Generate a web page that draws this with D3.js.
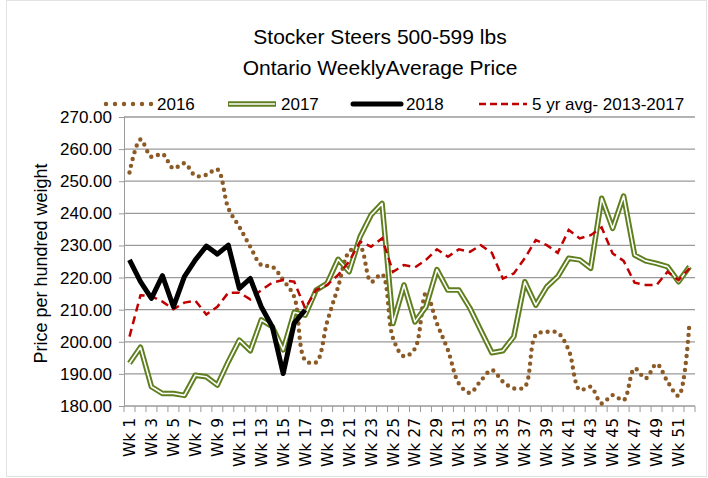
<!DOCTYPE html>
<html>
<head>
<meta charset="utf-8">
<script src="https://cdn.jsdelivr.net/npm/d3@7"></script>
<style>
  body { margin: 0; background: #fff; }
  svg { font-family: "Liberation Sans", Arial, sans-serif; }
</style>
</head>
<body>
<div id="chart"></div>
<script>
// weekly prices, $ per cwt
const weeks = d3.range(1, 53).map(w => "Wk " + w);
const y2016 = [252.7, 263.0, 257.6, 258.5, 254.0, 255.6, 251.7, 252.0, 253.7, 241.6, 235.8, 229.6, 223.9,
  223.4, 219.2, 214.0, 194.3, 193.6, 206.2, 217.1, 228.0, 229.6, 218.7, 221.0, 201.1, 195.5, 197.9,
  215.1, 205.7, 197.4, 187.0, 184.1, 187.9, 191.2, 187.6, 185.5, 186.0, 202.1, 203.1, 202.8, 197.4,
  185.0, 186.0, 180.8, 183.4, 181.8, 191.7, 188.6, 193.1, 187.6, 183.2, 206.2];
const y2017 = [193.3, 198.3, 186.0, 183.9, 183.9, 183.3, 189.6, 189.1, 186.5, 193.8, 200.5, 197.2, 206.8,
  204.7, 197.5, 209.2, 208.3, 216.1, 218.2, 225.7, 221.8, 232.7, 239.5, 243.1, 205.7, 217.7, 206.2,
  210.9, 222.5, 216.1, 216.1, 210.5, 203.5, 196.6, 197.2, 201.6, 218.7, 211.4, 217.1, 220.3, 226.0,
  225.5, 222.9, 244.7, 235.3, 245.4, 227.0, 225.2, 224.4, 223.4, 218.7, 223.4];
const y2018 = [225.5, 218.7, 213.5, 220.6, 210.9, 220.3, 225.5, 229.8, 227.3, 230.1, 216.6, 219.7, 210.9,
  204.7, 190.1, 205.8, 209.9];
const avg5 = [201.6, 214.5, 214.2, 212.5, 210.1, 212.2, 212.8, 208.5, 210.9, 215.3, 215.3, 213.2, 216.1,
  218.4, 219.2, 218.7, 210.4, 216.1, 217.7, 220.8, 225.0, 231.2, 229.6, 232.2, 221.8, 223.9, 223.2,
  225.5, 228.8, 226.5, 228.8, 228.0, 230.1, 227.7, 219.7, 221.3, 226.0, 231.7, 230.1, 227.7, 234.8,
  232.2, 233.2, 235.6, 227.5, 225.2, 218.4, 217.7, 217.7, 221.8, 219.2, 222.9];
const yTicks = [180, 190, 200, 210, 220, 230, 240, 250, 260, 270];
const seriesNames = ["2016", "2017", "2018", "5 yr avg- 2013-2017"];

const width = 708, height = 478;
const plot = { left: 124, right: 695, top: 117, bottom: 406 };

const svg = d3.select("#chart").append("svg")
  .attr("width", width)
  .attr("height", height);

// light frame around the chart
svg.append("rect")
  .attr("x", 6.5).attr("y", 0.5)
  .attr("width", width - 8).attr("height", height - 2)
  .attr("fill", "none").attr("stroke", "#e3e3e3");

const x = d3.scaleBand().domain(weeks).range([plot.left, plot.right]).padding(0);
const y = d3.scaleLinear().domain([180, 270]).range([plot.bottom, plot.top]);

// gridlines
svg.append("g")
  .selectAll("line")
  .data(yTicks.slice(1))
  .enter().append("line")
  .attr("x1", plot.left).attr("x2", plot.right)
  .attr("y1", d => y(d)).attr("y2", d => y(d))
  .attr("stroke", "#9a9a9a").attr("stroke-width", 1.3);

// y axis
const yAxis = svg.append("g")
  .attr("transform", `translate(${plot.left},0)`)
  .call(d3.axisLeft(y).tickValues(yTicks).tickFormat(d3.format(".2f")).tickSize(5).tickPadding(7));
yAxis.select(".domain").attr("stroke", "#9a9a9a");
yAxis.selectAll(".tick line").attr("stroke", "#9a9a9a");
yAxis.selectAll("text").attr("font-size", 17).attr("fill", "#000")
  .attr("font-family", "Liberation Sans, sans-serif");

// x axis: ticks between categories, labels on odd weeks
const xAxis = svg.append("g").attr("transform", `translate(0,${plot.bottom})`);
xAxis.append("line")
  .attr("x1", plot.left).attr("x2", plot.right)
  .attr("stroke", "#9a9a9a").attr("stroke-width", 1.3);
xAxis.selectAll(".tk")
  .data(d3.range(0, 53))
  .enter().append("line")
  .attr("x1", i => plot.left + i * x.bandwidth())
  .attr("x2", i => plot.left + i * x.bandwidth())
  .attr("y1", 0).attr("y2", 6)
  .attr("stroke", "#9a9a9a");
xAxis.selectAll("text")
  .data(weeks.filter((d, i) => i % 2 === 0))
  .enter().append("text")
  .attr("transform", d => `translate(${x(d) + x.bandwidth() / 2 + 5.5},12) rotate(-90)`)
  .attr("text-anchor", "end")
  .attr("font-family", "DejaVu Sans, sans-serif")
  .attr("font-size", 15.5)
  .text(d => d);

// y axis title
svg.append("text")
  .attr("transform", `translate(47,${(plot.top + plot.bottom) / 2 + 2}) rotate(-90)`)
  .attr("text-anchor", "middle")
  .attr("font-size", 18)
  .text("Price per hundred weight");

// title
svg.append("text").attr("x", 380).attr("y", 44).attr("text-anchor", "middle")
  .attr("font-size", 21).text("Stocker Steers 500-599 lbs");
svg.append("text").attr("x", 380).attr("y", 75).attr("text-anchor", "middle")
  .attr("font-size", 21).text("Ontario WeeklyAverage Price");

const cx = (d, i) => x(weeks[i]) + x.bandwidth() / 2;
const line = d3.line().x(cx).y(d => y(d));
const smooth = d3.line().x(cx).y(d => y(d)).curve(d3.curveCatmullRom.alpha(0.5));

// 2016 dotted
svg.append("path").datum(y2016)
  .attr("d", smooth)
  .attr("fill", "none").attr("stroke", "#8b5a26")
  .attr("stroke-width", 4.4).attr("stroke-linecap", "round")
  .attr("stroke-dasharray", "0 7");

// 2017 double line
svg.append("path").datum(y2017)
  .attr("d", line).attr("fill", "none").attr("stroke", "#5f7f1f")
  .attr("stroke-width", 5.5).attr("stroke-linejoin", "round");
svg.append("path").datum(y2017)
  .attr("d", line).attr("fill", "none").attr("stroke", "#fff")
  .attr("stroke-width", 1.6).attr("stroke-linejoin", "round");

// 5 yr avg dashed
svg.append("path").datum(avg5)
  .attr("d", line).attr("fill", "none").attr("stroke", "#c00000")
  .attr("stroke-width", 2.5).attr("stroke-dasharray", "8 5");

// 2018 thick black
svg.append("path").datum(y2018)
  .attr("d", line).attr("fill", "none").attr("stroke", "#000")
  .attr("stroke-width", 5).attr("stroke-linejoin", "round");

// legend
const legendY = 104;
const legend = svg.append("g");
const items = [
  { name: seriesNames[0], x: 104, type: "dot" },
  { name: seriesNames[1], x: 228, type: "double" },
  { name: seriesNames[2], x: 353, type: "black" },
  { name: seriesNames[3], x: 479, type: "dash" }
];
items.forEach(it => {
  const g = legend.append("g").attr("transform", `translate(${it.x},${legendY})`);
  if (it.type === "dot") {
    g.append("line").attr("x1", 2).attr("x2", 48).attr("stroke", "#8b5a26")
      .attr("stroke-width", 4.4).attr("stroke-linecap", "round").attr("stroke-dasharray", "0 9");
  } else if (it.type === "double") {
    g.append("line").attr("x1", 0).attr("x2", 48).attr("stroke", "#5f7f1f").attr("stroke-width", 5.5);
    g.append("line").attr("x1", 1).attr("x2", 47).attr("stroke", "#fff").attr("stroke-width", 1.6);
  } else if (it.type === "black") {
    g.append("line").attr("x1", 0).attr("x2", 48).attr("stroke", "#000")
      .attr("stroke-width", 5).attr("stroke-linecap", "round");
  } else {
    g.append("line").attr("x1", 0).attr("x2", 48).attr("stroke", "#c00000")
      .attr("stroke-width", 2.5).attr("stroke-dasharray", "7 4");
  }
  g.append("text").attr("x", 53).attr("y", 6).attr("font-size", 17).text(it.name);
});
</script>
</body>
</html>
